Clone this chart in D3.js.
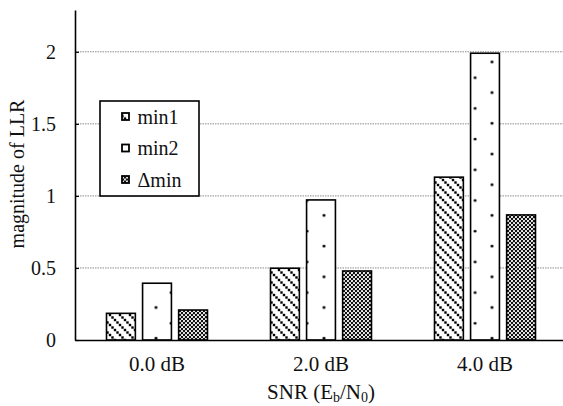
<!DOCTYPE html>
<html>
<head>
<meta charset="utf-8">
<script src="https://cdn.jsdelivr.net/npm/d3@7"></script>
<style>
  html, body { margin: 0; padding: 0; background: #fff; }
  svg text { font-family: "Liberation Serif", Tinos, "Times New Roman", Times, "Nimbus Roman", "Noto Serif", "DejaVu Serif", FreeSerif, serif; fill: #111; }
</style>
</head>
<body>
<div id="chart"></div>
<script>
// data
const categories = ["0.0 dB", "2.0 dB", "4.0 dB"]
const seriesNames = ["min1", "min2", "Δmin"]
const min1 = [0.185, 0.498, 1.13]
const min2 = [0.394, 0.972, 1.99]
const deltaMin = [0.208, 0.479, 0.868]
const yTicks = [0, 0.5, 1, 1.5, 2]
const gridTicks = [0.5, 1, 1.5, 2]

const width = 563
const height = 406
const baseY = 340
const axisX = 75

const svg = d3.select("#chart")
  .append("svg")
  .attr("width", width)
  .attr("height", height)

let x = d3.scaleBand()
  .domain(categories)
  .range([axisX, 567])

let xs = d3.scaleBand()
  .domain(seriesNames)
  .range([x.bandwidth() / 2 - 50.5, x.bandwidth() / 2 + 50.5])
  .paddingInner(0.2)

let y = d3.scaleLinear()
  .domain([0, 2.29])
  .range([baseY, 10])

const defs = svg.append("defs")

// min1 : downward diagonal made of dots
const diag = defs.append("pattern")
  .attr("id", "diag")
  .attr("patternUnits", "userSpaceOnUse")
  .attr("width", 10)
  .attr("height", 10)
diag.append("rect").attr("width", 10).attr("height", 10).attr("fill", "#fff")
const diagPts = [[0, 0], [2.5, 2.5], [5, 5], [7.5, 7.5], [10, 10], [10, 0], [0, 10]]
diagPts.forEach(p => {
  diag.append("rect")
    .attr("x", p[0] - 1.2).attr("y", p[1] - 1.2)
    .attr("width", 2.4).attr("height", 2.4)
    .attr("fill", "#000")
})

// delta min : black with white dots
const check = defs.append("pattern")
  .attr("id", "check")
  .attr("patternUnits", "userSpaceOnUse")
  .attr("width", 4)
  .attr("height", 4)
check.append("rect").attr("width", 4).attr("height", 4).attr("fill", "#111")
check.append("circle").attr("cx", 1).attr("cy", 1).attr("r", 1.05).attr("fill", "#fff")
check.append("circle").attr("cx", 3).attr("cy", 3).attr("r", 1.05).attr("fill", "#fff")

// min2 : sparse dots, one pattern per bar so the dots sit on the bar edge
categories.forEach((c, i) => {
  const left = x(c) + xs("min2")
  const p = defs.append("pattern")
    .attr("id", "dots-" + i)
    .attr("patternUnits", "userSpaceOnUse")
    .attr("x", left)
    .attr("y", baseY)
    .attr("width", 32)
    .attr("height", 30.7)
  p.append("rect").attr("width", 32).attr("height", 30.7).attr("fill", "#fff")
  p.append("circle").attr("cx", 2.4).attr("cy", 29).attr("r", 1.4).attr("fill", "#000")
  p.append("circle").attr("cx", 17.5).attr("cy", 14).attr("r", 1.4).attr("fill", "#000")
})

const fills = {
  "min1": () => "url(#diag)",
  "min2": i => "url(#dots-" + i + ")",
  "Δmin": () => "url(#check)"
}

// grid lines
svg.append("g")
  .selectAll("line")
  .data(gridTicks)
  .enter().append("line")
  .attr("x1", axisX)
  .attr("x2", width)
  .attr("y1", d => y(d))
  .attr("y2", d => y(d))
  .attr("stroke", "#8a8a8a")
  .attr("stroke-width", 1)
  .attr("stroke-dasharray", "1.5,1")

// bars
const rows = categories.map((c, i) => ({
  cat: c,
  idx: i,
  vals: [
    { key: "min1", v: min1[i] },
    { key: "min2", v: min2[i] },
    { key: "Δmin", v: deltaMin[i] }
  ]
}))

const groups = svg.append("g")
  .selectAll("g")
  .data(rows)
  .enter().append("g")
  .attr("transform", d => "translate(" + x(d.cat) + ",0)")

groups.selectAll("rect")
  .data(d => d.vals.map(v => Object.assign({ idx: d.idx }, v)))
  .enter().append("rect")
  .attr("x", d => xs(d.key))
  .attr("y", d => y(d.v))
  .attr("width", xs.bandwidth())
  .attr("height", d => baseY - y(d.v))
  .attr("fill", d => fills[d.key](d.idx))
  .attr("stroke", "#000")
  .attr("stroke-width", 1.6)

// y axis
const yAxis = d3.axisLeft(y)
  .tickValues(yTicks)
  .tickFormat(d => d)
  .tickSizeInner(-4)
  .tickSizeOuter(0)
  .tickPadding(19)

const gy = svg.append("g")
  .attr("transform", "translate(" + axisX + ",0)")
  .call(yAxis)
  .attr("font-size", 20)
gy.select(".domain").attr("stroke", "#000").attr("stroke-width", 1.6)
gy.selectAll(".tick line").attr("stroke", "#000").attr("stroke-width", 1.2)
gy.selectAll("text").attr("fill", "#111")

// x axis
const xAxis = d3.axisBottom(x).tickSize(0).tickSizeOuter(0)
const gx = svg.append("g")
  .attr("transform", "translate(0," + baseY + ")")
  .call(xAxis)
  .attr("font-size", 21)
gx.select(".domain").attr("stroke", "#000").attr("stroke-width", 1.6)
gx.selectAll("text")
  .attr("y", 31)
  .attr("dy", 0)
  .attr("fill", "#111")

// axis titles
svg.append("text")
  .attr("transform", "translate(24," + 174 + ") rotate(-90)")
  .attr("text-anchor", "middle")
  .attr("font-size", 20)
  .text("magnitude of LLR")

const xt = svg.append("text")
  .attr("x", 321)
  .attr("y", 399)
  .attr("text-anchor", "middle")
  .attr("font-size", 21)
xt.append("tspan").text("SNR (E")
xt.append("tspan").attr("dy", 3).attr("font-size", 14).text("b")
xt.append("tspan").attr("dy", -3).text("/N")
xt.append("tspan").attr("dy", 3).attr("font-size", 14).text("0")
xt.append("tspan").attr("dy", -3).text(")")

// legend
const legend = svg.append("g")
legend.append("rect")
  .attr("x", 100)
  .attr("y", 101)
  .attr("width", 99)
  .attr("height", 95)
  .attr("fill", "#fff")
  .attr("stroke", "#000")
  .attr("stroke-width", 1.6)

const legendFill = { "min1": "url(#diag)", "min2": "#fff", "Δmin": "url(#check)" }

const items = legend.selectAll("g.item")
  .data(seriesNames)
  .enter().append("g")
  .attr("class", "item")
  .attr("transform", (d, i) => "translate(0," + (123.5 + i * 31.5) + ")")

items.append("rect")
  .attr("x", 122)
  .attr("y", -10.5)
  .attr("width", 7)
  .attr("height", 7)
  .attr("fill", d => legendFill[d])
  .attr("stroke", "#000")
  .attr("stroke-width", 1.8)

items.append("text")
  .attr("x", 137.5)
  .attr("y", 0)
  .attr("font-size", 20)
  .text(d => d)
</script>
</body>
</html>
